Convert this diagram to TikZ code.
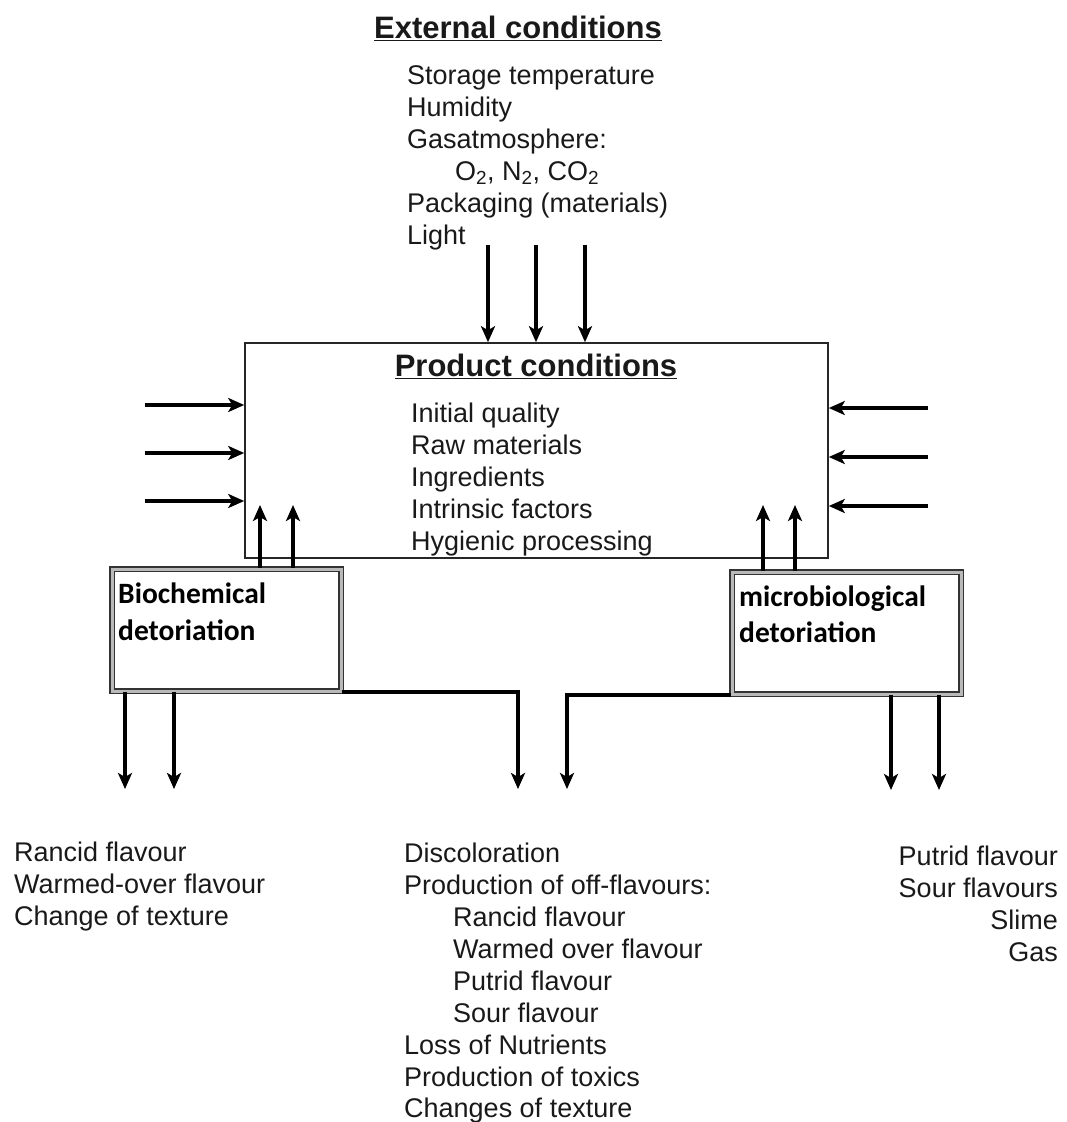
\documentclass[tikz,border=0pt]{standalone}
\usepackage{fontspec}
\setmainfont{Liberation Sans}
\newfontfamily\calib{Carlito}
\usetikzlibrary{arrows.meta}
\begin{document}
\begin{tikzpicture}[x=1pt,y=-1pt,
  txt/.style={inner sep=0pt,anchor=base west,font=\fontsize{27}{30}\selectfont,text=black!90},
  txtr/.style={txt,anchor=base east},
  ttl/.style={inner sep=0pt,anchor=base,font=\fontsize{31}{34}\bfseries\selectfont,text=black!90},
  btxt/.style={inner sep=0pt,anchor=base west,font=\fontsize{29.5}{30}\calib\bfseries\selectfont},
  arr/.style={line width=3.4pt,-{Stealth[length=16pt,width=14pt,inset=4pt]}},
  gbox/.style={draw=black!80,line width=1.6pt,double=gray!55,double distance=3pt,fill=white,inner sep=0pt}]
\useasboundingbox (0,0) rectangle (1067,1122);
% External conditions
\node[ttl] (ext) at (518,38) {\underline{External conditions}};
\node[txt] (e1) at (407,84) {Storage temperature};
\node[txt] (e2) at (407,116) {Humidity};
\node[txt] (e3) at (407,148) {Gasatmosphere:};
\node[txt] (e4) at (455,180) {O\textsubscript{2}, N\textsubscript{2}, CO\textsubscript{2}};
\node[txt] (e5) at (407,212) {Packaging (materials)};
\node[txt] (e6) at (407,244) {Light};
% Product box
\node[draw=black!85,line width=1.6pt,minimum width=583pt,minimum height=215pt,inner sep=0pt] (prod) at (536.5,450.5) {};
\node[ttl] (pt) at (536,376) {\underline{Product conditions}};
\node[txt] (p1) at (411,422) {Initial quality};
\node[txt] (p2) at (411,454) {Raw materials};
\node[txt] (p3) at (411,486) {Ingredients};
\node[txt] (p4) at (411,518) {Intrinsic factors};
\node[txt] (p5) at (411,550) {Hygienic processing};
% external arrows
\foreach \x [count=\i] in {488,536,585} {
  \coordinate (ea\i) at (\x,245);
  \draw[arr] (ea\i) -- (ea\i |- prod.north);
}
\foreach \y [count=\i] in {405,453,501} {
  \coordinate (la\i) at (145,\y);
  \draw[arr] (la\i) -- (la\i -| prod.west);
}
\foreach \y [count=\i] in {408,457,506} {
  \coordinate (ra\i) at (928,\y);
  \draw[arr] (ra\i) -- (ra\i -| prod.east);
}
% deterioration boxes
\node[gbox,minimum width=229pt,minimum height=122pt] (bio) at (226.5,630) {};
\node[btxt] (bt1) at (118,603) {Biochemical};
\node[btxt] (bt2) at (118,640) {detoriation};
\node[gbox,minimum width=229pt,minimum height=122pt] (mic) at (846.5,633) {};
\node[btxt] (mt1) at (739,606) {microbiological};
\node[btxt] (mt2) at (739,642) {detoriation};
% up arrows
\foreach \x [count=\i] in {260,293} {
  \coordinate (ub\i) at (\x,505);
  \draw[arr] (ub\i |- bio.north) -- (ub\i);
}
\foreach \x [count=\i] in {763,795} {
  \coordinate (um\i) at (\x,505);
  \draw[arr] (um\i |- mic.north) -- (um\i);
}
% down arrows
\foreach \x [count=\i] in {125,174} {
  \coordinate (db\i) at (\x,789);
  \draw[arr] (db\i |- bio.south) -- (db\i);
}
\foreach \x [count=\i] in {891,939} {
  \coordinate (dm\i) at (\x,790);
  \draw[arr] (dm\i |- mic.south) -- (dm\i);
}
\coordinate (cb) at (518,789);
\coordinate (cm) at (567,789);
\draw[arr] (bio.south east) -- (cb |- bio.south east) -- (cb);
\draw[arr] (mic.south west) -- (cm |- mic.south west) -- (cm);
% bottom texts
\node[txt] (b1) at (14,861) {Rancid flavour};
\node[txt] (b2) at (14,893) {Warmed-over flavour};
\node[txt] (b3) at (14,925) {Change of texture};
\node[txt] (m1) at (404,862) {Discoloration};
\node[txt] (m2) at (404,894) {Production of off-flavours:};
\node[txt] (m3) at (453,926) {Rancid flavour};
\node[txt] (m4) at (453,958) {Warmed over flavour};
\node[txt] (m5) at (453,990) {Putrid flavour};
\node[txt] (m6) at (453,1022) {Sour flavour};
\node[txt] (m7) at (404,1054) {Loss of Nutrients};
\node[txt] (m8) at (404,1086) {Production of toxics};
\node[txt] (m9) at (404,1117) {Changes of texture};
\node[txtr] (r1) at (1058,865) {Putrid flavour};
\node[txtr] (r2) at (1058,897) {Sour flavours};
\node[txtr] (r3) at (1058,929) {Slime};
\node[txtr] (r4) at (1058,961) {Gas};
\end{tikzpicture}
\end{document}
